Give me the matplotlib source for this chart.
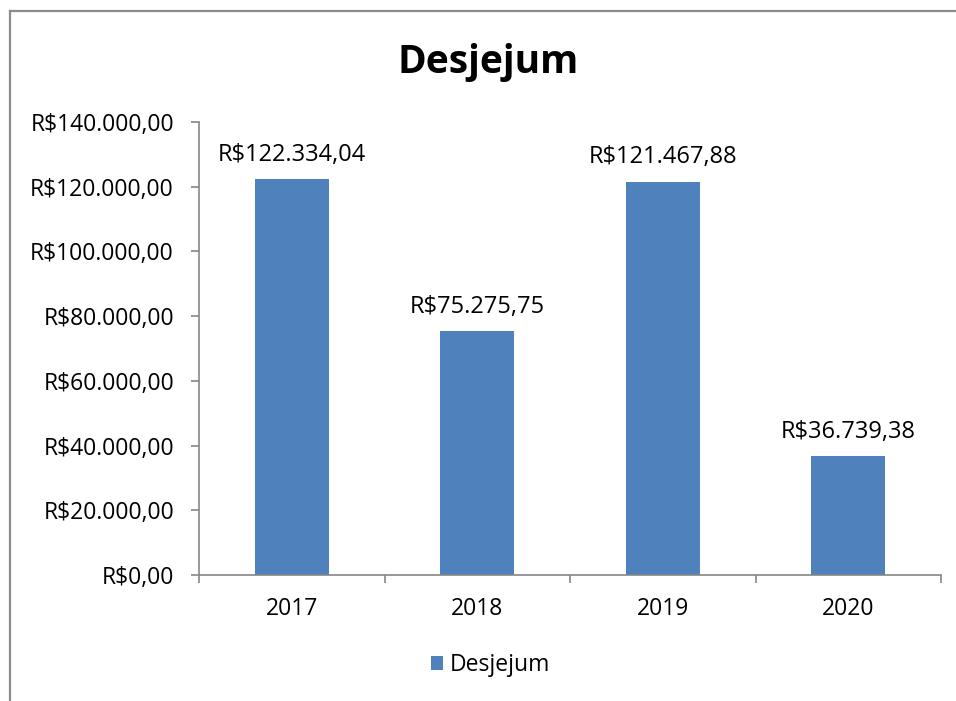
import matplotlib
matplotlib.use('Agg')
import matplotlib.pyplot as plt
from matplotlib.lines import Line2D
from matplotlib.ticker import FuncFormatter

# data
anos = ['2017', '2018', '2019', '2020']
valores = [122334.04, 75275.75, 121467.88, 36739.38]
serie = 'Desjejum'

plt.rcParams['font.family'] = ['Open Sans', 'DejaVu Sans']
FS = 16.5

def brl(v, pos=None):
	s = '{:,.2f}'.format(v)
	s = s.replace(',', 'X').replace('.', ',').replace('X', '.')
	return 'R$' + s

fig = plt.figure(figsize=(9.56, 7.01), dpi=100)
# only the top and left edges of the chart frame are in view
bx, by = 9.5/956., 1 - 10.5/701.
fig.lines.append(Line2D([bx, 1], [by, by], transform=fig.transFigure, color='#8c8c8c', lw=1.6))
fig.lines.append(Line2D([bx, bx], [0, by], transform=fig.transFigure, color='#8c8c8c', lw=1.6))

ax = fig.add_axes([199/956., 1 - 575/701., (941-199)/956., (575-122)/701.])
x = list(range(len(anos)))
bars = ax.bar(x, valores, width=0.40, color='#4F81BD', label=serie)

ax.set_xlim(-0.5, len(anos) - 0.5)
ax.set_ylim(0, 140000)
ax.set_yticks(range(0, 140001, 20000))
ax.yaxis.set_major_formatter(FuncFormatter(brl))
ax.set_xticks(x)
ax.set_xticklabels(anos)
ax.set_xticks([i - 0.5 for i in range(len(anos) + 1)], minor=True)
ax.tick_params(axis='x', which='major', length=0, pad=16, labelsize=FS)
ax.tick_params(axis='x', which='minor', length=6, color='#868686', width=1.2)
ax.tick_params(axis='y', length=6, color='#868686', width=1.2, pad=12, labelsize=FS)

for s in ['top', 'right']:
	ax.spines[s].set_visible(False)
for s in ['left', 'bottom']:
	ax.spines[s].set_color('#868686')
	ax.spines[s].set_linewidth(1.2)

for b, v in zip(bars, valores):
	ax.annotate(brl(v), (b.get_x() + b.get_width()/2., v), xytext=(0, 9),
		textcoords='offset points', ha='center', va='bottom', fontsize=17)

fig.text(0.511, 1 - 63/701., 'Desjejum', ha='center', va='center', fontsize=28, fontweight='bold')

fig.legend(loc='center', bbox_to_anchor=(0.513, 1 - 665/701.), frameon=False, fontsize=FS,
	handlelength=0.55, handleheight=0.55, handletextpad=0.3)

fig.savefig('out.png', dpi=100)
